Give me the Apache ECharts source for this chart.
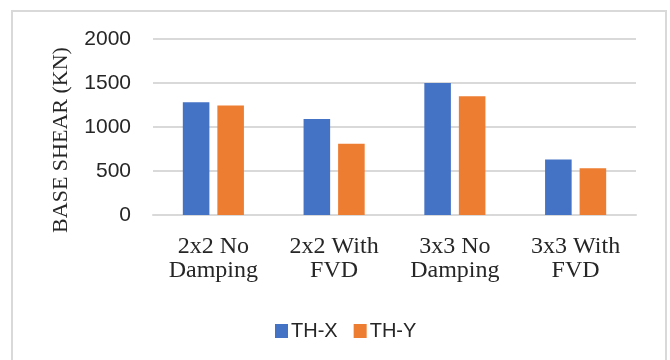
<!DOCTYPE html>
<html>
<head>
<meta charset="utf-8">
<script src="https://cdn.jsdelivr.net/npm/echarts@6/dist/echarts.min.js"></script>
<style>
  html, body { margin: 0; padding: 0; background: #ffffff; }
  #chart { width: 670px; height: 360px; }
</style>
</head>
<body>
<div id="chart"></div>
<script>
// Base shear per model configuration, two time-history directions
const categories = ['2x2 No\nDamping', '2x2 With\nFVD', '3x3 No\nDamping', '3x3 With\nFVD'];
const thX = [1280, 1090, 1500, 630];
const thY = [1245, 810, 1350, 530];
const yTicks = { min: 0, max: 2000, interval: 500 };
const yTitle = 'BASE SHEAR (KN)';

const chart = echarts.init(document.getElementById('chart'), null, { renderer: 'canvas' });

chart.setOption({
  backgroundColor: '#ffffff',
  animation: false,
  grid: { left: 153, right: 34, top: 39, bottom: 145, containLabel: false },
  legend: {
    data: ['TH-X', 'TH-Y'],
    left: 270,
    top: 316,
    itemWidth: 13,
    itemHeight: 14,
    itemGap: 16,
    icon: 'rect',
    textStyle: { fontFamily: 'Liberation Sans', fontSize: 20, color: '#262626', padding: [0, 0, 0, -2] }
  },
  xAxis: {
    type: 'category',
    data: categories,
    axisTick: { show: false },
    axisLine: { show: true, lineStyle: { color: '#d9d9d9', width: 2 } },
    axisLabel: {
      margin: 20,
      fontFamily: 'Liberation Serif',
      fontSize: 24,
      lineHeight: 24,
      color: '#262626',
      interval: 0
    }
  },
  yAxis: {
    type: 'value',
    min: yTicks.min,
    max: yTicks.max,
    interval: yTicks.interval,
    axisLine: { show: false },
    axisTick: { show: false },
    splitLine: { lineStyle: { color: '#d9d9d9', width: 2 } },
    axisLabel: {
      margin: 22,
      fontFamily: 'Liberation Sans',
      fontSize: 21,
      color: '#262626',
      formatter: (v) => String(v)
    }
  },
  series: [
    {
      name: 'TH-X',
      type: 'bar',
      data: thX,
      barWidth: '22%',
      barGap: '30%',
      itemStyle: { color: '#4472C4' }
    },
    {
      name: 'TH-Y',
      type: 'bar',
      data: thY,
      barWidth: '22%',
      itemStyle: { color: '#ED7D31' }
    }
  ],
  graphic: [
    {
      type: 'rect',
      shape: { x: 12, y: 11, width: 654, height: 360 },
      style: { fill: 'none', stroke: '#d9d9d9', lineWidth: 2 },
      silent: true,
      z: -1
    },
    {
      type: 'text',
      x: 61,
      y: 140,
      rotation: Math.PI / 2,
      style: {
        text: yTitle,
        fontFamily: 'Liberation Serif',
        fontSize: 22,
        fill: '#262626',
        align: 'center',
        verticalAlign: 'middle'
      }
    }
  ]
});
</script>
</body>
</html>
